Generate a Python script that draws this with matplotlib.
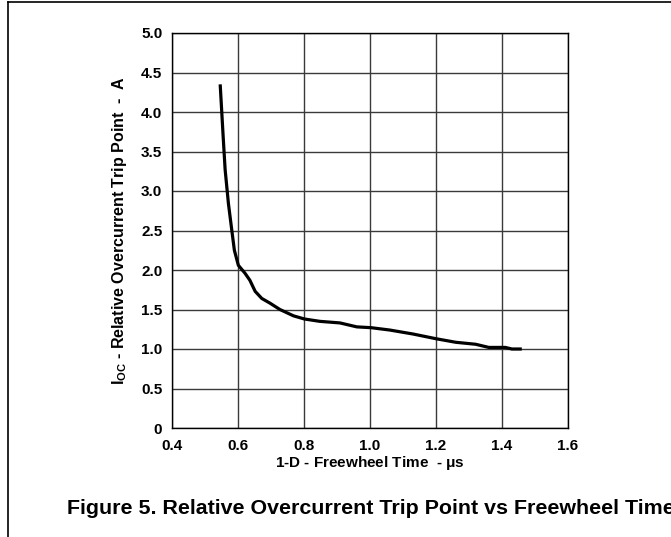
import matplotlib
matplotlib.use('Agg')
import matplotlib.pyplot as plt
from matplotlib.lines import Line2D

plt.rcParams['font.family'] = ['Liberation Sans', 'DejaVu Sans']
plt.rcParams['font.weight'] = 'bold'
plt.rcParams['mathtext.fontset'] = 'custom'
plt.rcParams['mathtext.rm'] = 'Liberation Sans:bold'
plt.rcParams['mathtext.bf'] = 'Liberation Sans:bold'
plt.rcParams['mathtext.it'] = 'Liberation Sans:bold'

# freewheel time (us) vs relative overcurrent trip point (A)
freewheel_time = [0.546, 0.555, 0.561, 0.571, 0.581, 0.589, 0.601, 0.621, 0.636,
                  0.652, 0.672, 0.697, 0.727, 0.768, 0.801, 0.848, 0.909, 0.960,
                  1.003, 1.06, 1.13, 1.20, 1.26, 1.32, 1.36, 1.41, 1.43, 1.46]
trip_point = [4.35, 3.69, 3.27, 2.84, 2.51, 2.25, 2.06, 1.96, 1.87,
              1.73, 1.64, 1.58, 1.50, 1.42, 1.38, 1.35, 1.33, 1.28,
              1.27, 1.24, 1.19, 1.13, 1.085, 1.06, 1.02, 1.02, 1.0, 1.0]

x_ticks = [0.4, 0.6, 0.8, 1.0, 1.2, 1.4, 1.6]
x_tick_labels = ['0.4', '0.6', '0.8', '1.0', '1.2', '1.4', '1.6']
y_ticks = [0, 0.5, 1.0, 1.5, 2.0, 2.5, 3.0, 3.5, 4.0, 4.5, 5.0]
y_tick_labels = ['0', '0.5', '1.0', '1.5', '2.0', '2.5', '3.0', '3.5', '4.0', '4.5', '5.0']

W, H = 671, 537
fig = plt.figure(figsize=(W / 100, H / 100), dpi=100)
ax = fig.add_axes([172 / W, 1 - 428 / H, 396 / W, 395 / H])

ax.plot(freewheel_time, trip_point, color='black', linewidth=2.3, solid_capstyle='butt')

ax.set_xlim(0.4, 1.6)
ax.set_ylim(0, 5.0)
ax.set_xticks(x_ticks)
ax.set_xticklabels(x_tick_labels)
ax.set_yticks(y_ticks)
ax.set_yticklabels(y_tick_labels)
ax.tick_params(axis='both', length=0, labelsize=11)
ax.tick_params(axis='x', pad=8)
ax.tick_params(axis='y', pad=7)
ax.grid(True, color='#3a3a3a', linewidth=1.0)
for s in ax.spines.values():
    s.set_linewidth(1.0)
    s.set_color('black')

ax.set_xlabel(r'1-D - Freewheel Time  - $\mu$s', fontsize=11, fontweight='bold', labelpad=1)
ax.set_ylabel(r'$\mathbf{I_{OC}}$ - Relative Overcurrent Trip Point  -  A',
              fontsize=11.5, fontweight='bold', labelpad=9)

fig.text(67 / W, 1 - 514 / H, 'Figure 5. Relative Overcurrent Trip Point vs Freewheel Time',
         fontsize=15.4, fontweight='bold', ha='left', va='baseline')

# page frame (top and left edges)
fig.add_artist(Line2D([8 / W, 1], [1 - 2 / H, 1 - 2 / H], transform=fig.transFigure,
                      color='black', linewidth=1.2))
fig.add_artist(Line2D([8 / W, 8 / W], [0, 1 - 2 / H], transform=fig.transFigure,
                      color='black', linewidth=1.2))

fig.savefig('out.png', dpi=100)
